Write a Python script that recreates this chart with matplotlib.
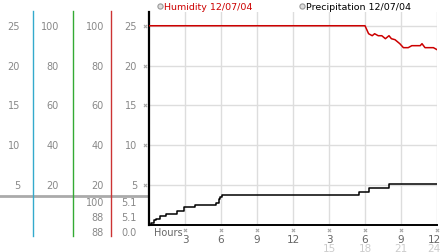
import matplotlib
matplotlib.use("Agg")
import matplotlib.pyplot as plt
import matplotlib.transforms as mtransforms

# Data
hum_hours = [0, 18.0, 18.3, 18.6, 18.8, 19.1, 19.4, 19.7, 20.0, 20.2, 20.5, 20.9,
             21.2, 21.6, 21.9, 22.6, 22.75, 23.0, 23.7, 24.0]
hum_pct = [100, 100, 96, 95, 96, 95, 95, 93.5, 95, 93.5, 93, 91,
           89, 89, 90, 90, 91, 89, 89, 88]

rain_hours = [0, 0.2, 0.4, 0.6, 0.9, 1.4, 2.3, 2.9, 3.8, 5.6, 5.8, 5.95, 6.1,
              17.5, 18.3, 20.0, 24]
rain_vals = [0, 0.3, 0.6, 0.8, 1.1, 1.4, 1.8, 2.2, 2.5, 2.8, 3.2, 3.5, 3.8,
             4.1, 4.7, 5.1, 5.1]

y_ticks = [5, 10, 15, 20, 25]
x_ticks = [3, 6, 9, 12, 15, 18, 21, 24]
x_labels = ["3", "6", "9", "12", "3", "6", "9", "12"]
x_labels2 = ["15", "18", "21", "24"]

col1 = ["25", "20", "15", "10", "5"]
col2 = ["100", "80", "60", "40", "20"]
col3 = ["100", "80", "60", "40", "20"]
col4 = ["25", "20", "15", "10", "5"]
hum_stats = ["100", "88", "88"]
rain_stats = ["5.1", "5.1", "0.0"]

W, H = 442, 253
fig = plt.figure(figsize=(W / 100, H / 100), dpi=100)

ax = fig.add_axes([149 / W, 1 - 226 / H, 288 / W, 213 / H])
ax.set_xlim(0, 24)
ax.set_ylim(0, 213 / 7.97)

ax.plot(hum_hours, [h / 4 for h in hum_pct], color="#cc0000", lw=1.1, zorder=3)
ax.plot(rain_hours, rain_vals, color="black", lw=1.1, drawstyle="steps-post", zorder=3)

ax.set_xticks(x_ticks)
ax.set_yticks(y_ticks)
ax.grid(color="#dddddd", lw=1)
ax.tick_params(length=0, labelleft=False, labelbottom=False)
for s in ["top", "right"]:
    ax.spines[s].set_visible(False)
ax.spines["left"].set_linewidth(1.6)
ax.spines["bottom"].set_linewidth(1.4)

# little tick glyphs
ax.scatter([-0.33] * len(y_ticks), y_ticks, marker="x", s=5, lw=0.8,
           color="#aaaaaa", clip_on=False)
ax.scatter(x_ticks, [-0.65] * len(x_ticks), marker="x", s=5, lw=0.8,
           color="#aaaaaa", clip_on=False)

# overlay in pixel coordinates
ov = fig.add_axes([0, 0, 1, 1], zorder=-1)
ov.set_xlim(0, W)
ov.set_ylim(H, 0)
ov.axis("off")
yt = mtransforms.blended_transform_factory(ov.transData, ax.transData)
xt = mtransforms.blended_transform_factory(ax.transData, ov.transData)

fs = 7
gray = "#888888"
for x, col in [(20, col1), (59, col2), (104, col3), (137, col4)]:
    for v, lab in zip(y_ticks[::-1], col):
        ov.text(x, v, lab, transform=yt, ha="right", va="center", fontsize=fs, color=gray)
for i, (a, b) in enumerate(zip(hum_stats, rain_stats)):
    ov.text(104, 203 + 15 * i, a, ha="right", va="center", fontsize=fs, color=gray)
    ov.text(137, 203 + 15 * i, b, ha="right", va="center", fontsize=fs, color=gray)

ov.plot([0, 149], [197, 197], color="#aaaaaa", lw=2)
for x, c in [(33, "#33aacc"), (72.5, "#33aa33"), (111, "#cc3333")]:
    ov.plot([x, x], [12, 237], color=c, lw=1)

# x labels
ov.text(154, 233, "Hours", ha="left", va="center", fontsize=fs, color="#666666")
for t, lab in zip(x_ticks, x_labels):
    if t == x_ticks[-1]:
        t -= 0.25
    ov.text(t, 240, lab, transform=xt, ha="center", va="center", fontsize=fs + 0.5, color="#666666")
for t, lab in zip(x_ticks[4:], x_labels2):
    if t == x_ticks[-1]:
        t -= 0.25
    ov.text(t, 249, lab, transform=xt, ha="center", va="center", fontsize=fs + 0.5, color="#cccccc")

# legend
ov.scatter([160, 302], [7, 7], s=14, facecolor="#dddddd", edgecolor="#999999", lw=0.8)
ov.text(164, 7, "Humidity 12/07/04", ha="left", va="center", fontsize=6.8, color="#cc0000")
ov.text(306, 7, "Precipitation 12/07/04", ha="left", va="center", fontsize=6.8, color="black")

fig.savefig("out.png", dpi=100)
